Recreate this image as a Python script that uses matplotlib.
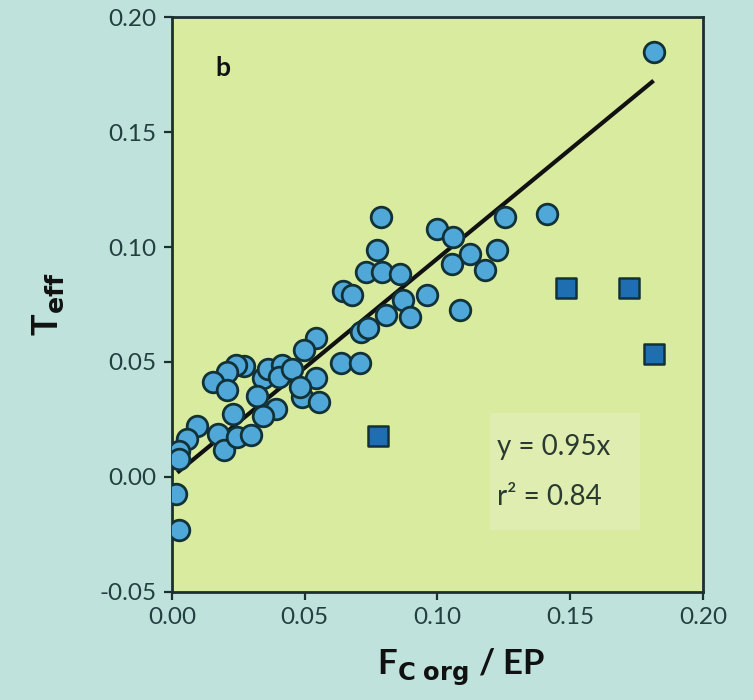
import matplotlib
matplotlib.use("Agg")
import matplotlib.pyplot as plt
import numpy as np
from matplotlib.patches import Rectangle

plt.rcParams['font.family'] = ['Lato', 'DejaVu Sans']
plt.rcParams['mathtext.default'] = 'bf'

# Circles: F_C org / EP  vs  T_eff
circle_x = [0.1814, 0.1411, 0.1254, 0.0789, 0.0998, 0.1060, 0.1223, 0.0772, 0.1123, 0.1054,
            0.1179, 0.0729, 0.0791, 0.0860, 0.0644, 0.0679, 0.0869, 0.0960, 0.0807, 0.0897,
            0.1085, 0.0713, 0.0740, 0.0541, 0.0497, 0.0635, 0.0710, 0.0271, 0.0240, 0.0209,
            0.0153, 0.0209, 0.0341, 0.0360, 0.0416, 0.0403, 0.0453, 0.0541, 0.0322, 0.0391,
            0.0341, 0.0491, 0.0553, 0.0484, 0.0231, 0.0094, 0.0056, 0.0026, 0.0027, 0.0175,
            0.0196, 0.0244, 0.0297, 0.0015, 0.0027]
circle_y = [0.1847, 0.1145, 0.1131, 0.1131, 0.1080, 0.1043, 0.0989, 0.0989, 0.0971, 0.0925,
            0.0902, 0.0891, 0.0891, 0.0884, 0.0807, 0.0790, 0.0770, 0.0790, 0.0703, 0.0696,
            0.0725, 0.0630, 0.0647, 0.0603, 0.0551, 0.0494, 0.0496, 0.0481, 0.0486, 0.0457,
            0.0413, 0.0380, 0.0429, 0.0471, 0.0486, 0.0435, 0.0471, 0.0429, 0.0353, 0.0297,
            0.0266, 0.0348, 0.0326, 0.0390, 0.0273, 0.0223, 0.0165, 0.0112, 0.0077, 0.0187,
            0.0116, 0.0173, 0.0181, -0.0072, -0.0232]

# Squares
square_x = [0.0777, 0.1483, 0.1720, 0.1817]
square_y = [0.0177, 0.0820, 0.0820, 0.0533]

# Regression line y = 0.95x
slope = 0.95
fit_range = [0.002, 0.1814]

xticks = [0.00, 0.05, 0.10, 0.15, 0.20]
yticks = [-0.05, 0.00, 0.05, 0.10, 0.15, 0.20]

bg = '#bfe3dc'
face = '#d9eb9f'
dark = '#1c3030'

fig = plt.figure(figsize=(7.53, 7.00), dpi=100, facecolor=bg)
ax = fig.add_axes([0.2284, 0.1543, 0.7052, 0.8214])
ax.set_facecolor(face)

ax.add_patch(Rectangle((0.599, 0.108), 0.282, 0.203, transform=ax.transAxes,
                       facecolor='#dfeeb0', edgecolor='none', zorder=1))

fx = np.array(fit_range)
ax.plot(fx, slope * fx, color='#111111', lw=3, zorder=2, solid_capstyle='butt')

ax.scatter(circle_x, circle_y, s=220, marker='o', facecolor='#4fa8d8',
           edgecolor='#123238', linewidth=2.0, zorder=3)
ax.scatter(square_x, square_y, s=190, marker='s', facecolor='#1f6eb2',
           edgecolor='#123238', linewidth=1.8, zorder=3)

ax.set_xlim(0.0, 0.20)
ax.set_ylim(-0.05, 0.20)
ax.set_xticks(xticks)
ax.set_yticks(yticks)
ax.set_xticklabels([f"{v:.2f}" for v in xticks])
ax.set_yticklabels([f"{v:.2f}" for v in yticks])

for s in ax.spines.values():
    s.set_color(dark)
    s.set_linewidth(2)
ax.tick_params(direction='out', length=6, width=1.6, color=dark,
               labelsize=17.5, labelcolor='#234040', pad=5)

ax.set_xlabel(r"F$_{\mathbf{C\ org}}$ / EP", fontsize=25, fontweight='bold',
              color='#111111', labelpad=17)
ax.xaxis.set_label_coords(0.545, -0.095)
ax.set_ylabel(r"T$_{\mathbf{eff}}$", fontsize=26, fontweight='bold',
              color='#111111', labelpad=24)

ax.text(0.0165, 0.1777, 'b', fontsize=19, fontweight='bold', color='#111111',
        ha='left', va='center')
ax.text(0.612, 0.252, 'y = 0.95x', transform=ax.transAxes, fontsize=20,
        color='#2a3a30', ha='left', va='center', zorder=4)
ax.text(0.612, 0.165, 'r² = 0.84', transform=ax.transAxes, fontsize=20,
        color='#2a3a30', ha='left', va='center', zorder=4)

fig.savefig('out.png', dpi=100, facecolor=bg)
